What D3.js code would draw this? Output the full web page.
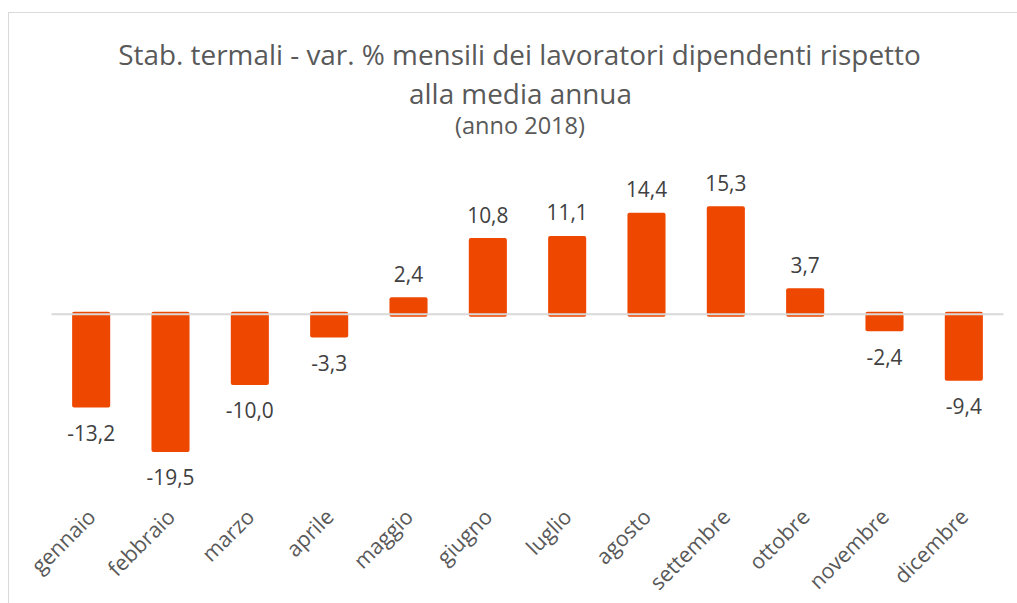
<!DOCTYPE html>
<html><head><meta charset="utf-8">
<script src="https://cdn.jsdelivr.net/npm/d3@7"></script>
<style>html,body{margin:0;padding:0;background:#fff;}svg{display:block;font-family:"Open Sans",sans-serif;}</style>
</head><body>
<svg id="c" width="1017" height="603"></svg>
<script>
const months = ["gennaio","febbraio","marzo","aprile","maggio","giugno","luglio","agosto","settembre","ottobre","novembre","dicembre"];
const values = [-13.2,-19.5,-10.0,-3.3,2.4,10.8,11.1,14.4,15.3,3.7,-2.4,-9.4];
const titleLines = ["Stab. termali - var. % mensili dei lavoratori dipendenti rispetto","alla media annua"];
const subtitle = "(anno 2018)";

const svg = d3.select("#c");
svg.append("rect").attr("x",8.5).attr("y",12.5).attr("width",1017).attr("height",603)
  .attr("fill","#fff").attr("stroke","#d9d9d9").attr("stroke-width",1);

const x = d3.scaleBand().domain(months).range([51.5,1003.5]).paddingInner(0.52).paddingOuter(0.26);
const y = d3.scaleLinear().domain([-20,16]).range([314.3+20*7.06, 314.3-16*7.06]);

const fmt = v => d3.format(".1f")(v).replace(".",",").replace("−","-");

// measure helper: font size so that `str` is `target` px wide
function fitSize(str, target){
  const t = svg.append("text").attr("font-size",20).text(str);
  const w = t.node().getComputedTextLength();
  t.remove();
  return 20*target/w;
}

// title
const tSize = fitSize(titleLines[0], 803);
svg.append("text").attr("x",519.5).attr("y",64.5).attr("text-anchor","middle")
  .attr("fill","#595959").attr("font-size",tSize).text(titleLines[0]);
svg.append("text").attr("x",520.5).attr("y",103.5).attr("text-anchor","middle")
  .attr("fill","#595959").attr("font-size",tSize).text(titleLines[1]);
svg.append("text").attr("x",520).attr("y",134).attr("text-anchor","middle")
  .attr("fill","#595959").attr("font-size",fitSize(subtitle,130)).text(subtitle);

// bars
const ext = 2.5;
svg.append("g").selectAll("rect").data(values).join("rect")
  .attr("x",(d,i)=>x(months[i]))
  .attr("width",x.bandwidth())
  .attr("y",d=> d>=0 ? y(d) : y(0)-ext)
  .attr("height",d=> Math.abs(y(d)-y(0))+ext)
  .attr("rx",2).attr("fill","#EE4800");

// zero line
svg.append("line").attr("x1",x.range()[0]).attr("x2",x.range()[1])
  .attr("y1",y(0)).attr("y2",y(0)).attr("stroke","#d9d9d9").attr("stroke-width",2);

// value labels
const vSize = fitSize("-13,2", 48);
svg.append("g").selectAll("text").data(values).join("text")
  .attr("x",(d,i)=>x(months[i])+x.bandwidth()/2)
  .attr("y",d=> d>=0 ? y(d)-15.5 : y(d)+33.5)
  .attr("text-anchor","middle").attr("fill","#404040").attr("font-size",vSize)
  .text(fmt);

// x axis labels
const lSize = fitSize("gennaio", 80);
const xa = svg.append("g").attr("transform",`translate(0,${y(0)})`)
  .call(d3.axisBottom(x).tickSize(0).tickPadding(0));
xa.select(".domain").remove();
xa.selectAll("text").attr("font-family","'Open Sans', sans-serif").attr("font-size",lSize)
  .attr("fill","#595959").attr("text-anchor","end")
  .attr("transform","translate(6,204) rotate(-45)").attr("dy",0).attr("y",0).attr("x",0);
</script>
</body></html>
